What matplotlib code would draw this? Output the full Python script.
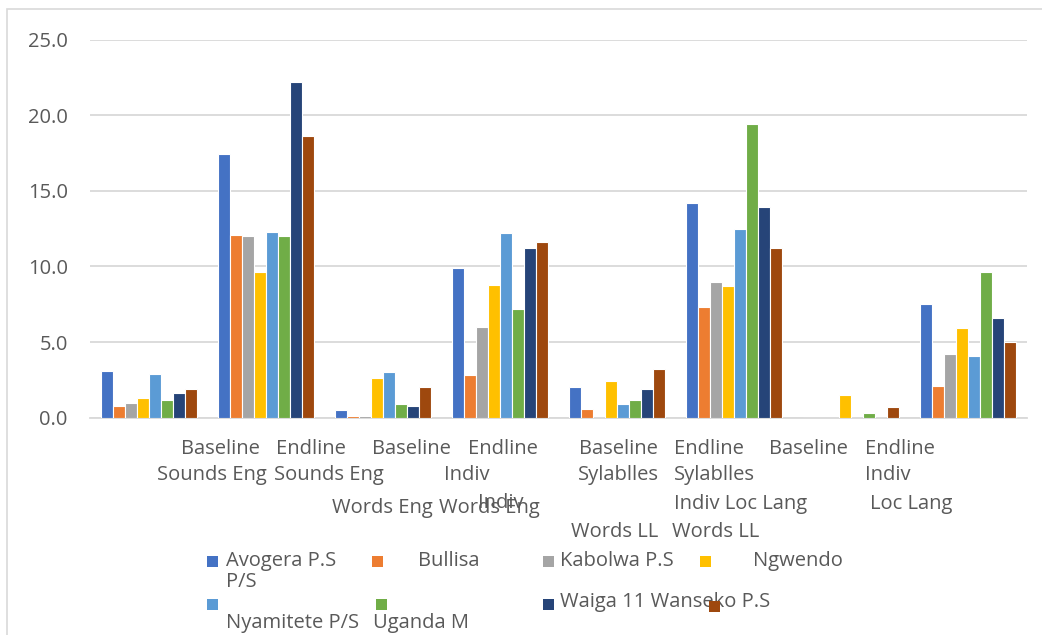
import matplotlib
matplotlib.use("Agg")
import matplotlib.pyplot as plt
import matplotlib.transforms as mtransforms
from matplotlib.patches import Rectangle

# ---- data -------------------------------------------------------------
categories = [
    "Baseline Sounds Eng", "Endline Sounds Eng",
    "Baseline Indiv Words Eng", "Endline Indiv Words Eng",
    "Baseline Sylablles Words LL", "Endline Sylablles Words LL",
    "Baseline Indiv Loc Lang", "Endline Indiv Loc Lang",
]
schools = ["Avogera P.S", "Bullisa P/S", "Kabolwa P.S", "Ngwendo",
           "Nyamitete P/S", "Uganda M", "Waiga 11", "Wanseko P.S"]

avogera   = [3.1, 17.4, 0.5, 9.9, 2.0, 14.2, 0.0, 7.5]
bullisa   = [0.8, 12.1, 0.1, 2.8, 0.6, 7.3, 0.0, 2.1]
kabolwa   = [1.0, 12.0, 0.1, 6.0, 0.0, 9.0, 0.0, 4.2]
ngwendo   = [1.3, 9.6, 2.6, 8.8, 2.4, 8.7, 1.5, 5.9]
nyamitete = [2.9, 12.3, 3.0, 12.2, 0.9, 12.5, 0.0, 4.1]
uganda_m  = [1.2, 12.0, 0.9, 7.2, 1.2, 19.4, 0.3, 9.6]
waiga     = [1.6, 22.2, 0.8, 11.2, 1.9, 13.9, 0.0, 6.6]
wanseko   = [1.9, 18.6, 2.0, 11.6, 3.2, 11.2, 0.7, 5.0]

series = [avogera, bullisa, kabolwa, ngwendo, nyamitete, uganda_m, waiga, wanseko]
colors = ["#4472C4", "#ED7D31", "#A5A5A5", "#FFC000",
          "#5B9BD5", "#70AD47", "#264478", "#9E480E"]

yticks = [0, 5, 10, 15, 20, 25]

# ---- figure -----------------------------------------------------------
W, H = 1042, 635
plt.rcParams["font.family"] = ["Open Sans", "DejaVu Sans"]
TXT = "#595959"
FS = 14.5

fig = plt.figure(figsize=(W / 100, H / 100), dpi=100)
fig.patch.set_facecolor("white")

def fx(px):
    return px / W

def fy(py):
    return 1 - py / H

# chart border
fig.patches.append(Rectangle((fx(7), fy(700)), 1.2, fy(9) - fy(700),
                             transform=fig.transFigure, fill=False,
                             edgecolor="#D9D9D9", linewidth=1.2))

ax = fig.add_axes([fx(90), fy(417.7), fx(1027) - fx(90), fy(39.5) - fy(417.7)])

n = len(series)
w = 0.1025
for j, (vals, c) in enumerate(zip(series, colors)):
    xs = [i + (j - (n - 1) / 2) * w for i in range(len(categories))]
    ax.bar(xs, vals, width=w, color=c, edgecolor="white", linewidth=0.8,
           zorder=3)

ax.set_xlim(-0.5, len(categories) - 0.5)
ax.set_ylim(0, 25)
ax.set_yticks(yticks)
ax.set_yticklabels([f"{v:.1f}" for v in yticks], color=TXT, fontsize=FS)
ax.tick_params(axis="y", length=0, pad=16)
ax.tick_params(axis="x", length=0, labelbottom=False)
ax.grid(axis="y", color="#D9D9D9", linewidth=1.3, zorder=0)
for s in ["top", "right", "left"]:
    ax.spines[s].set_visible(False)
ax.spines["bottom"].set_color("#D9D9D9")
ax.spines["bottom"].set_linewidth(1.3)

# wrapped category label fragments (x in data units, y in axes units)
tr = mtransforms.blended_transform_factory(ax.transData, ax.transAxes)
label_pieces = [
    ("Baseline", 0.61, -0.083), ("Sounds Eng", 0.537, -0.152),
    ("Endline", 1.387, -0.083), ("Sounds Eng", 1.536, -0.152),
    ("Baseline", 2.245, -0.083), ("Words Eng", 1.997, -0.240),
    ("Endline", 3.022, -0.083), ("Indiv", 2.719, -0.152),
    ("Words Eng", 2.911, -0.240), ("Indiv", 3.005, -0.225),
    ("Baseline", 4.008, -0.083), ("Sylablles", 4.008, -0.152),
    ("Words LL", 3.982, -0.302),
    ("Endline", 4.781, -0.083), ("Sylablles", 4.828, -0.152),
    ("Indiv Loc Lang", 5.054, -0.228), ("Words LL", 4.845, -0.302),
    ("Baseline", 5.630, -0.083),
    ("Endline", 6.416, -0.083), ("Indiv", 6.313, -0.152),
    ("Loc Lang", 6.514, -0.228),
]
for t, x, y in label_pieces:
    ax.text(x, y, t, transform=tr, ha="center", va="center",
            color=TXT, fontsize=FS, clip_on=False)

# legend
sq = 11
legend_squares = [
    (207, 561, 0), (372, 561, 1), (543, 561, 2), (700, 561, 3),
    (207, 604, 4), (376, 604, 5), (543, 604, 6), (709, 606, 7),
]
for x0, yc, k in legend_squares:
    fig.patches.append(Rectangle((fx(x0), fy(yc + sq / 2)), sq / W, sq / H,
                                 transform=fig.transFigure,
                                 facecolor=colors[k], edgecolor="none",
                                 zorder=5))

legend_texts = [
    ("Avogera P.S", 226, 561), ("P/S", 226, 582), ("Bullisa", 418, 561),
    ("Kabolwa P.S", 560, 561), ("Ngwendo", 753, 561),
    ("Nyamitete P/S", 226, 623), ("Uganda M", 373, 623),
    ("Waiga 11 Wanseko P.S", 560, 602),
]
for t, x, y in legend_texts:
    fig.text(fx(x), fy(y), t, ha="left", va="center", color=TXT,
             fontsize=FS, zorder=4)

fig.savefig("out.png", dpi=100)
